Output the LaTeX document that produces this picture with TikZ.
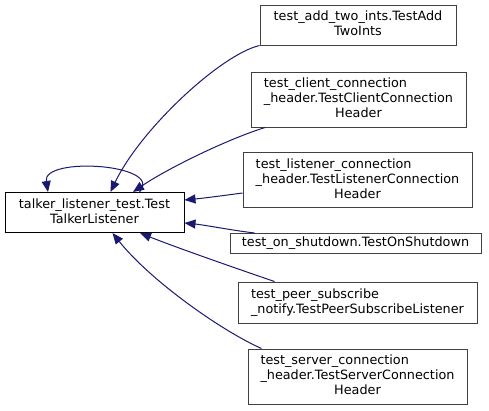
\documentclass[tikz,border=0pt]{standalone}
\usepackage{fontspec}
\setmainfont{DejaVu Sans}
\usetikzlibrary{arrows.meta}
\definecolor{edgeblue}{RGB}{25,25,112}
\definecolor{boxgray}{RGB}{64,64,64}
\newcommand{\lbltwo}[2]{\begin{tabular}{@{}l@{}}#1\\\multicolumn{1}{@{}c@{}}{#2}\end{tabular}}
\newcommand{\lblthree}[3]{\begin{tabular}{@{}l@{}}#1\\#2\\\multicolumn{1}{@{}c@{}}{#3}\end{tabular}}
\begin{document}
\begin{tikzpicture}[x=1pt,y=-1pt,
  box/.style={draw=boxgray, line width=1pt, fill=white, inner sep=0pt, rectangle,
    font=\fontsize{12.8}{15}\selectfont},
  rootbox/.style={box, draw=black},
  edge/.style={draw=edgeblue, line width=1pt, -{Triangle[length=11pt,width=9pt]}, fill=none}
]
\useasboundingbox (0,0) rectangle (489,410);
\node[rootbox, minimum width=179pt, minimum height=40pt] (main) at (94.5,212.5)
  {\lbltwo{talker\_listener\_test.Test}{TalkerListener}};
\node[box, minimum width=196pt, minimum height=40pt] (add) at (358,25)
  {\lbltwo{test\_add\_two\_ints.TestAdd}{TwoInts}};
\node[box, minimum width=215pt, minimum height=55pt] (client) at (358.5,99.5)
  {\lblthree{test\_client\_connection}{\_header.TestClientConnection}{Header}};
\node[box, minimum width=229pt, minimum height=55pt] (listener) at (357.5,180)
  {\lblthree{test\_listener\_connection}{\_header.TestListenerConnection}{Header}};
\node[box, minimum width=251pt, minimum height=20pt] (shutdown) at (355.5,243.5)
  {test\_on\_shutdown.TestOnShutdown};
\node[box, minimum width=239pt, minimum height=41pt] (peer) at (357.5,302.5)
  {\begin{tabular}{@{}l@{}}test\_peer\_subscribe\\\_notify.TestPeerSubscribeListener\end{tabular}};
\node[box, minimum width=219pt, minimum height=55pt] (server) at (357.5,376.5)
  {\lblthree{test\_server\_connection}{\_header.TestServerConnection}{Header}};
% edges
\draw[edge] (add.south west) .. controls (220,55) and (140,130) .. ([xshift=16pt]main.north);
\draw[edge] ([xshift=-93.5pt]client.south) .. controls (225,140) and (165,170) .. ([xshift=38.5pt]main.north);
\draw[edge] ([yshift=-13pt]listener.west) .. controls (220,196) and (205,198) .. ([yshift=12.5pt]main.east);
\draw[edge] ([xshift=25pt]shutdown.north west) .. controls (230,230) and (205,225) .. ([yshift=-10.5pt]main.east);
\draw[edge] ([xshift=37pt]peer.north west) .. controls (235,268) and (175,247) .. ([xshift=45.5pt]main.south);
\draw[edge] ([xshift=14pt]server.north west) .. controls (220,330) and (150,280) .. ([xshift=18pt]main.south);
\draw[edge] ([xshift=45pt]main.north) .. controls (165,164) and (42,156) .. ([xshift=-46.5pt]main.north);
\end{tikzpicture}
\end{document}
